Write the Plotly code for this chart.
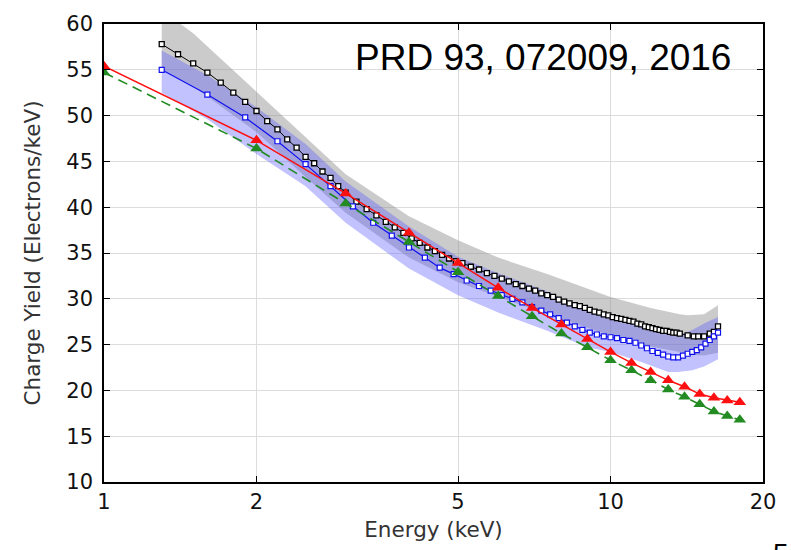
import plotly.graph_objects as go

# ---------------- data ----------------
energy_tri = [1, 2, 3, 4, 5, 6, 7, 8, 9, 10, 11, 12, 13, 14, 15, 16, 17, 18]
red_yield = [55.4, 47.3, 41.5, 37.2, 33.9, 31.2, 29.0, 27.2, 25.6, 24.2, 23.0, 22.0,
             21.1, 20.4, 19.6, 19.2, 18.9, 18.7]
green_yield = [54.7, 46.4, 40.4, 36.2, 32.9, 30.3, 28.1, 26.2, 24.7, 23.3, 22.2, 21.1,
               20.1, 19.3, 18.5, 17.7, 17.2, 16.8]

black_e = [1.3, 1.4, 1.5, 1.6, 1.7, 1.8, 1.9, 2.0, 2.1, 2.2, 2.3, 2.4, 2.5, 2.6, 2.7, 2.8,
           2.9, 3.0, 3.15, 3.3, 3.45, 3.6, 3.75, 3.9, 4.05, 4.2, 4.35, 4.5, 4.65, 4.8, 4.95,
           5.1, 5.3, 5.5, 5.7, 5.9, 6.1, 6.3, 6.5, 6.7, 6.9, 7.1, 7.3, 7.5, 7.7, 7.9, 8.1,
           8.3, 8.5, 8.7, 8.9, 9.1, 9.3, 9.5, 9.7, 9.9, 10.1, 10.3, 10.5, 10.7, 10.9, 11.1,
           11.3, 11.5, 11.7, 11.9, 12.1, 12.3, 12.5, 12.7, 12.9, 13.1, 13.3, 13.5, 13.7,
           14.2, 14.6, 14.9, 15.3, 15.7, 16.0, 16.3]
black_y = [57.8, 56.7, 55.7, 54.7, 53.6, 52.5, 51.5, 50.5, 49.4, 48.5, 47.4, 46.5, 45.5,
           44.8, 43.9, 43.2, 42.3, 41.6, 40.6, 39.8, 39.1, 38.4, 37.8, 37.2, 36.6, 36.1,
           35.6, 35.2, 34.8, 34.4, 34.1, 33.9, 33.5, 33.2, 32.8, 32.5, 32.2, 31.9, 31.6,
           31.4, 31.1, 30.9, 30.6, 30.4, 30.2, 29.9, 29.7, 29.5, 29.3, 29.2, 29.0, 28.8,
           28.6, 28.5, 28.3, 28.2, 28.0, 27.9, 27.8, 27.7, 27.6, 27.5, 27.3, 27.2, 27.0,
           26.9, 26.8, 26.7, 26.6, 26.5, 26.5, 26.4, 26.3, 26.3, 26.2,
           26.0, 25.9, 25.9, 25.9, 26.2, 26.4, 27.0]

blue_e = [1.3, 1.6, 1.9, 2.2, 2.5, 2.8, 3.1, 3.4, 3.7, 4.0, 4.3, 4.6, 4.9, 5.2, 5.5, 5.8,
          6.1, 6.4, 6.7, 7.0, 7.3, 7.6, 7.9, 8.2, 8.5, 8.8, 9.1, 9.4, 9.7, 10.0, 10.3,
          10.6, 10.9, 11.2, 11.5, 11.8, 12.1, 12.4, 12.7, 13.0, 13.3, 13.6, 13.9, 14.2,
          14.5, 14.8, 15.1, 15.4, 15.7, 16.0, 16.3]
blue_y = [55.0, 52.3, 49.8, 47.2, 44.7, 42.3, 40.1, 38.3, 36.9, 35.6, 34.5, 33.4, 32.7,
          32.0, 31.4, 30.9, 30.4, 30.0, 29.6, 29.1, 28.7, 28.3, 27.9, 27.4, 27.0, 26.6,
          26.3, 26.1, 25.9, 25.8, 25.7, 25.5, 25.4, 25.2, 24.9, 24.6, 24.3, 24.1, 23.9,
          23.7, 23.6, 23.6, 23.8, 24.0, 24.2, 24.4, 24.7, 25.1, 25.5, 25.9, 26.3]

gray_band_e = [1.3, 1.5, 2.0, 2.5, 3.0, 4.0, 5.0, 6.0, 7.5, 10, 12, 13.7, 14.2, 15.3, 16.3]
gray_band_hi = [61.5, 59.0, 52.6, 47.6, 43.6, 39.0, 36.4, 34.5, 32.7, 30.2, 29.0, 28.3,
                28.2, 28.3, 29.3]
gray_band_lo = [55.0, 53.2, 48.2, 43.3, 39.4, 34.5, 31.8, 30.2, 28.3, 26.0, 24.8, 24.2,
                23.9, 23.8, 24.1]

blue_band_e = [1.3, 1.6, 2.0, 2.5, 3.0, 4.0, 5.0, 6.0, 7.5, 9.0, 10, 11.5, 13.0, 13.6,
               14.5, 15.3, 16.3]
blue_band_hi = [57.1, 54.4, 50.9, 46.9, 42.8, 37.9, 34.6, 32.8, 30.8, 28.7, 28.1, 27.2,
                26.2, 26.0, 26.6, 27.3, 28.0]
blue_band_lo = [52.5, 49.6, 45.8, 42.3, 38.3, 33.3, 30.4, 28.5, 26.5, 24.7, 24.2, 23.1,
                22.0, 22.0, 22.2, 22.6, 23.4]

x_ticks = [1, 2, 5, 10, 20]
y_ticks = [10, 15, 20, 25, 30, 35, 40, 45, 50, 55, 60]
ref_text = "PRD 93, 072009, 2016"

AXFONT = "DejaVu Sans, Arial, sans-serif"
ANFONT = "Liberation Sans, Arial, sans-serif"

fig = go.Figure()

# bands
fig.add_trace(go.Scatter(
    x=gray_band_e + gray_band_e[::-1], y=gray_band_hi + gray_band_lo[::-1],
    fill="toself", fillcolor="rgba(140,140,140,0.45)", line=dict(width=0),
    mode="lines", hoverinfo="skip", showlegend=False))
fig.add_trace(go.Scatter(
    x=blue_band_e + blue_band_e[::-1], y=blue_band_hi + blue_band_lo[::-1],
    fill="toself", fillcolor="rgba(90,90,255,0.37)", line=dict(width=0),
    mode="lines", hoverinfo="skip", showlegend=False))

# curves
fig.add_trace(go.Scatter(
    x=black_e, y=black_y, mode="lines+markers",
    line=dict(color="black", width=1),
    marker=dict(symbol="square", size=5, color="white", line=dict(color="black", width=1.3)),
    showlegend=False))
fig.add_trace(go.Scatter(
    x=blue_e, y=blue_y, mode="lines+markers",
    line=dict(color="#1010ee", width=1.2),
    marker=dict(symbol="square", size=5, color="white", line=dict(color="#1010ee", width=1.2)),
    showlegend=False))
fig.add_trace(go.Scatter(
    x=energy_tri, y=green_yield, mode="lines+markers",
    line=dict(color="#228b22", width=1.6, dash="10px,6px"),
    marker=dict(symbol="triangle-up", size=11, color="#228b22"),
    showlegend=False))
fig.add_trace(go.Scatter(
    x=energy_tri, y=red_yield, mode="lines+markers",
    line=dict(color="#ff1010", width=1.5),
    marker=dict(symbol="triangle-up", size=11, color="#ff1010"),
    showlegend=False))

fig.add_annotation(text=ref_text, xref="paper", yref="paper", x=0.955, y=0.926,
                   xanchor="right", yanchor="middle", showarrow=False,
                   font=dict(family=ANFONT, size=37, color="black"))
fig.add_annotation(text="5", xref="paper", yref="paper", x=1.027, y=-0.118,
                   xanchor="center", yanchor="top", showarrow=False,
                   font=dict(family=ANFONT, size=28, color="black"))

axis_common = dict(showline=True, linecolor="black", linewidth=1.5, mirror="ticks",
                   ticks="inside", ticklen=6, tickwidth=1.2, tickcolor="black",
                   showgrid=True, gridcolor="#dcdcdc", gridwidth=1.2, zeroline=False,
                   tickfont=dict(family=AXFONT, size=21, color="#111"))

fig.update_xaxes(type="log", range=[0, 1.30103], tickvals=x_ticks,
                 ticktext=[str(v) for v in x_ticks],
                 title=dict(text="Energy (keV)", font=dict(family=AXFONT, size=21.5, color="#333"),
                            standoff=9),
                 **axis_common)
fig.update_yaxes(range=[10, 60], tickvals=y_ticks, ticklabelstandoff=5,
                 title=dict(text="Charge Yield (Electrons/keV)",
                            font=dict(family=AXFONT, size=21.5, color="#333"), standoff=20),
                 **axis_common)

fig.update_layout(width=791, height=550, margin=dict(l=104, r=28, t=17, b=68),
                  plot_bgcolor="white", paper_bgcolor="white",
                  font=dict(family=AXFONT))

fig.write_html("out.html")
